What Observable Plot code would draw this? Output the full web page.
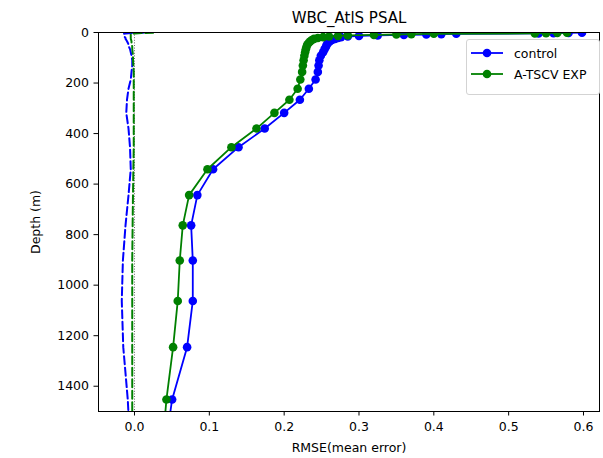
<!DOCTYPE html>
<html><head><meta charset="utf-8">
<script src="https://cdn.jsdelivr.net/npm/d3@7"></script>
<script src="https://cdn.jsdelivr.net/npm/@observablehq/plot@0.6"></script>
<style>
body{margin:0;background:#fff;}
#wrap{position:relative;width:603px;height:458px;font-family:"DejaVu Sans",sans-serif;}
#legend{position:absolute;left:466px;top:39px;width:134px;height:56px;border:1px solid #d3d3d3;border-radius:3px;background:rgba(255,255,255,0.85);box-sizing:border-box;font-size:12.5px;color:#000;}
.row{position:absolute;left:3px;display:flex;align-items:center;height:20px;white-space:nowrap;}
.row svg{margin-right:10px;}
</style></head><body><div id="wrap"></div>
<script>
const title = "WBC_AtlS PSAL";
const xLabel = "RMSE(mean error)";
const yLabel = "Depth (m)";
const seriesNames = ["control", "A-TSCV EXP"];
const seriesColors = ["#0000ff", "#008000"];
const xTicks = [0.0, 0.1, 0.2, 0.3, 0.4, 0.5, 0.6];
const yTicks = [0, 200, 400, 600, 800, 1000, 1200, 1400];

const depth = [0.5, 1.5, 2.6, 3.8, 5.1, 6.4, 7.9, 9.6, 11.4, 13.5, 15.8, 18.5, 21.6, 25.2, 29.4, 34.4, 40.3, 47.4, 55.8, 65.8, 77.9, 92.3, 109.7, 130.7, 155.9, 186.1, 222.5, 266.0, 318.1, 380.2, 453.9, 541.1, 643.6, 763.3, 902.3, 1062.4, 1245.3, 1452.3, 1684.3];

const rmseControl = [0.598, 0.58, 0.56, 0.54, 0.43, 0.41, 0.39, 0.36, 0.325, 0.30, 0.285, 0.276, 0.272, 0.268, 0.264, 0.261, 0.259, 0.257, 0.256, 0.254, 0.252, 0.249, 0.247, 0.246, 0.245, 0.242, 0.233, 0.221, 0.200, 0.174, 0.139, 0.105, 0.084, 0.0757, 0.0779, 0.0779, 0.0703, 0.0503, 0.039];
const rmseExp = [0.578, 0.565, 0.55, 0.535, 0.40, 0.37, 0.35, 0.32, 0.285, 0.272, 0.26, 0.252, 0.245, 0.24, 0.237, 0.235, 0.233, 0.231, 0.230, 0.229, 0.228, 0.227, 0.226, 0.225, 0.224, 0.2216, 0.218, 0.207, 0.187, 0.163, 0.1295, 0.0975, 0.073, 0.0645, 0.0605, 0.0578, 0.0516, 0.0427, 0.036];
const meControl = [0.012, 0.0, -0.008, -0.012, -0.014, -0.014, -0.014, -0.014, -0.014, -0.014, -0.013, -0.013, -0.012, -0.012, -0.011, -0.010, -0.009, -0.008, -0.0075, -0.006, -0.005, -0.004, -0.003, -0.003, -0.004, -0.005, -0.008, -0.010, -0.011, -0.008, -0.006, -0.005, -0.008, -0.012, -0.0155, -0.017, -0.015, -0.009, -0.005];
const meExp = [0.025, 0.015, 0.005, 0.0, -0.003, -0.005, -0.005, -0.005, -0.005, -0.005, -0.005, -0.005, -0.005, -0.005, -0.0045, -0.004, -0.004, -0.0035, -0.003, -0.003, -0.0025, -0.002, -0.002, -0.0015, -0.001, -0.001, -0.001, -0.001, -0.001, -0.001, -0.001, -0.0015, -0.002, -0.0025, -0.003, -0.003, -0.003, -0.003, -0.003];

const seriesData = [
  {name: seriesNames[0], rmse: rmseControl, me: meControl},
  {name: seriesNames[1], rmse: rmseExp, me: meExp}
];
const rows = [];
seriesData.forEach(s => depth.forEach((d, i) => rows.push({series: s.name, depth: d, rmse: s.rmse[i], me: s.me[i]})));

const marks = [
  Plot.ruleX([0], {stroke: "#444", strokeWidth: 0.8, strokeDasharray: "1,1.6"})
];
seriesNames.forEach(name => {
  const data = rows.filter(r => r.series === name);
  marks.push(
    Plot.line(data, {x: "rmse", y: "depth", stroke: "series", strokeWidth: 1.8, clip: true}),
    Plot.dot(data, {x: "rmse", y: "depth", fill: "series", r: 4.3, clip: true}),
    Plot.line(data, {x: "me", y: "depth", stroke: "series", strokeWidth: 2, strokeDasharray: "8,3.5", clip: true})
  );
});
marks.push(
  Plot.frame({stroke: "#000", strokeWidth: 1}),
  Plot.axisX({ticks: xTicks, tickFormat: d => d.toFixed(1), tickSize: 4.5, tickPadding: 6, fontSize: 12.5, label: xLabel, labelAnchor: "center", labelArrow: "none", labelOffset: 40}),
  Plot.axisY({ticks: yTicks, tickFormat: d => String(d), tickSize: 4.5, tickPadding: 5, fontSize: 12.5, label: yLabel, labelAnchor: "center", labelArrow: "none", labelOffset: 67}),
  Plot.text([title], {frameAnchor: "top", dy: -14, fontSize: 15, lineAnchor: "middle", fill: "#000"})
);

const chart = Plot.plot({
  width: 603, height: 458,
  marginLeft: 98, marginRight: 4, marginTop: 32, marginBottom: 47,
  style: {fontFamily: "DejaVu Sans, sans-serif", fontSize: "12.5px", color: "#000", background: "#fff"},
  x: {domain: [-0.0481, 0.6214]},
  y: {domain: [0, 1500], reverse: true},
  color: {domain: seriesNames, range: seriesColors},
  marks
});
const wrap = document.getElementById("wrap");
wrap.appendChild(chart);

const legend = document.createElement("div");
legend.id = "legend";
seriesNames.forEach((name, i) => {
  const row = document.createElement("div");
  row.className = "row";
  row.style.top = (3 + i * 21) + "px";
  row.innerHTML = `<svg width="34" height="12"><line x1="1" y1="6" x2="33" y2="6" stroke="${seriesColors[i]}" stroke-width="1.8"/><circle cx="17" cy="6" r="4.3" fill="${seriesColors[i]}"/></svg><span>${name}</span>`;
  legend.appendChild(row);
});
wrap.appendChild(legend);
</script></body></html>
